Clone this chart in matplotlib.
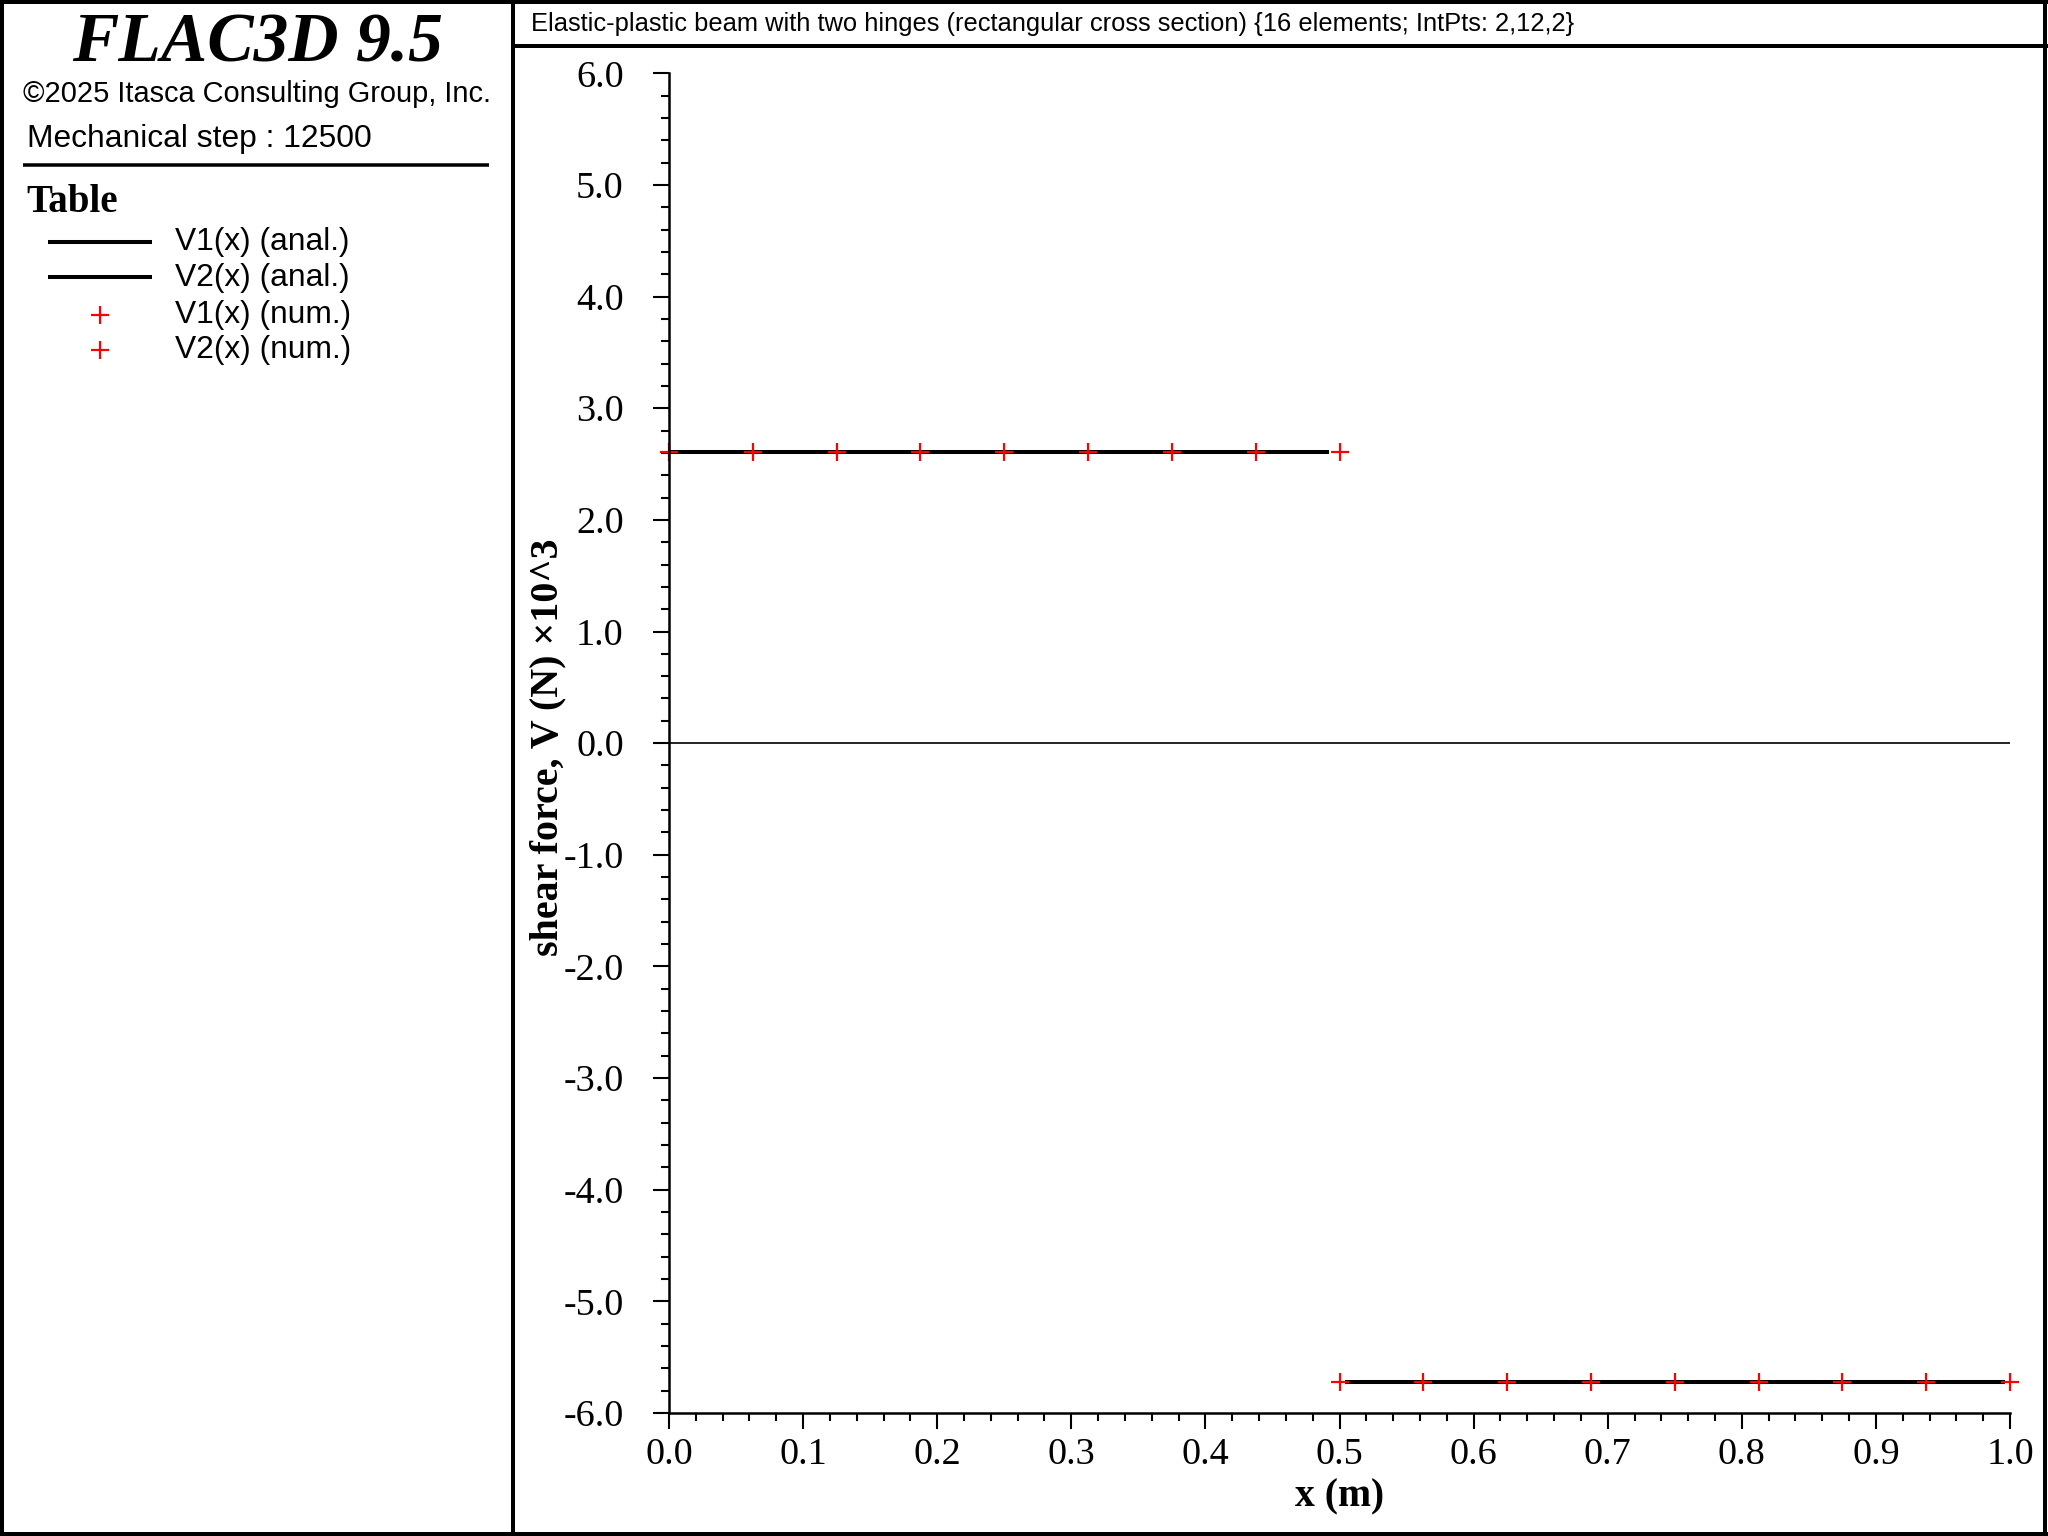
import matplotlib
matplotlib.use("Agg")
import matplotlib.pyplot as plt
from matplotlib.lines import Line2D
from matplotlib.ticker import MultipleLocator, FormatStrFormatter

# ---------------- data ----------------
v1_anal_x = [0.0, 0.492]
v1_anal_y = [2.61, 2.61]
v2_anal_x = [0.504, 0.996]
v2_anal_y = [-5.72, -5.72]
v1_num_x = [0.0, 0.0625, 0.125, 0.1875, 0.25, 0.3125, 0.375, 0.4375, 0.5]
v1_num_y = [2.61, 2.61, 2.61, 2.61, 2.61, 2.61, 2.61, 2.61, 2.61]
v2_num_x = [0.5, 0.5625, 0.625, 0.6875, 0.75, 0.8125, 0.875, 0.9375, 1.0]
v2_num_y = [-5.72, -5.72, -5.72, -5.72, -5.72, -5.72, -5.72, -5.72, -5.72]
zero_x = [0.0, 1.0]
zero_y = [0.0, 0.0]

title = "Elastic-plastic beam with two hinges (rectangular cross section) {16 elements; IntPts: 2,12,2}"
legend_labels = ["V1(x) (anal.)", "V2(x) (anal.)", "V1(x) (num.)", "V2(x) (num.)"]
xlabel = "x (m)"
ylabel = "shear force, V (N) \u00d710^3"

plt.rcParams['axes.unicode_minus'] = False

W, H = 2048, 1536
fig = plt.figure(figsize=(W / 100, H / 100), dpi=100)

def fx(px):
    return px / W

def fy(py):
    return 1 - py / H

# ---------------- axes ----------------
ax = fig.add_axes([fx(669), fy(1413), fx(2010) - fx(669), fy(73.3) - fy(1413)])
ax.set_xlim(0.0, 1.0)
ax.set_ylim(-6.0, 6.0)
for s in ['top', 'right']:
    ax.spines[s].set_visible(False)
for s in ['left', 'bottom']:
    ax.spines[s].set_linewidth(1.8)

ax.plot(zero_x, zero_y, color='black', lw=1.2)
ax.plot(v1_anal_x, v1_anal_y, color='black', lw=2.9, solid_capstyle='butt')
ax.plot(v2_anal_x, v2_anal_y, color='black', lw=2.9, solid_capstyle='butt')
ax.plot(v1_num_x, v1_num_y, ls='none', marker='+', color='red', ms=12.5, mew=1.6, clip_on=False)
ax.plot(v2_num_x, v2_num_y, ls='none', marker='+', color='red', ms=12.5, mew=1.6, clip_on=False)

ax.xaxis.set_major_locator(MultipleLocator(0.1))
ax.xaxis.set_minor_locator(MultipleLocator(0.02))
ax.yaxis.set_major_locator(MultipleLocator(1.0))
ax.yaxis.set_minor_locator(MultipleLocator(0.2))
ax.xaxis.set_major_formatter(FormatStrFormatter('%.1f'))
ax.yaxis.set_major_formatter(FormatStrFormatter('%.1f'))

ax.tick_params(which='major', direction='out', length=11.5, width=1.5)
ax.tick_params(which='minor', direction='out', length=5.8, width=1.5)
ax.tick_params(axis='y', which='major', pad=21)
ax.tick_params(axis='x', which='major', pad=6)
for lab in ax.get_xticklabels() + ax.get_yticklabels():
    lab.set_fontfamily('Liberation Serif')
    lab.set_fontsize(27.5)

ax.set_xlabel(xlabel, fontfamily='Liberation Serif', fontweight='bold', fontsize=28.5, va='center')
ax.xaxis.set_label_coords(0.5, -0.0627)
ax.set_ylabel(ylabel, fontfamily='Liberation Serif', fontweight='bold', fontsize=28.8, va='center')
ax.yaxis.set_label_coords(-0.09, 0.497)

# ---------------- frame lines ----------------
def fline(x0, y0, x1, y1, lw_px):
    fig.add_artist(Line2D([fx(x0), fx(x1)], [fy(y0), fy(y1)], transform=fig.transFigure,
                          color='black', lw=lw_px * 0.72, solid_capstyle='butt'))

fline(0, 2, W, 2, 4)
fline(0, H - 2, W, H - 2, 4)
fline(2, 0, 2, H, 4)
fline(W - 3, 0, W - 3, H, 4)
fline(513, 0, 513, H, 4)
fline(513, 45.5, W, 45.5, 4)
fline(23, 165, 489, 165, 3.5)

# ---------------- title ----------------
fig.text(fx(531), fy(30.7), title, fontfamily='Liberation Sans', fontsize=18.4, va='baseline', ha='left')

# ---------------- left panel ----------------
fig.text(fx(257), fy(62), "FLAC3D 9.5", fontfamily='Liberation Serif', fontweight='bold',
         fontstyle='italic', fontsize=50, ha='center', va='baseline')
fig.text(fx(23), fy(102), "\u00a92025 Itasca Consulting Group, Inc.", fontfamily='Liberation Sans',
         fontsize=20.9, ha='left', va='baseline')
fig.text(fx(27), fy(147), "Mechanical step : 12500", fontfamily='Liberation Sans',
         fontsize=22.9, ha='left', va='baseline')
fig.text(fx(26), fy(212), "Table", fontfamily='Liberation Serif', fontweight='bold',
         fontsize=28, ha='left', va='baseline')

row_y = [242, 277, 315, 350]
base_y = [250, 286, 323, 358]
for i in range(2):
    fig.add_artist(Line2D([fx(48), fx(152)], [fy(row_y[i]), fy(row_y[i])], transform=fig.transFigure,
                          color='black', lw=2.9, solid_capstyle='butt'))
for i in range(2, 4):
    fig.add_artist(Line2D([fx(100)], [fy(row_y[i])], transform=fig.transFigure, ls='none',
                          marker='+', color='red', ms=12.5, mew=1.6))
for i in range(4):
    fig.text(fx(175), fy(base_y[i]), legend_labels[i], fontfamily='Liberation Sans',
             fontsize=22.9, ha='left', va='baseline')

fig.savefig("out.png", dpi=100)
